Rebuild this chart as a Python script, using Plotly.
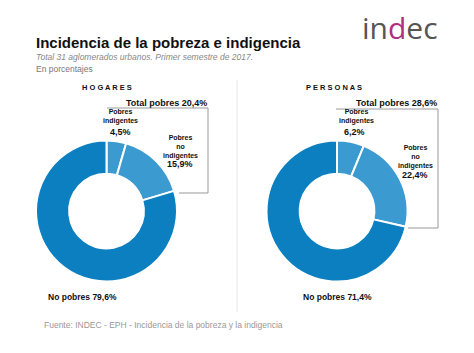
import plotly.graph_objects as go

categories = ["Pobres indigentes", "Pobres no indigentes", "No pobres"]
hogares = [4.5, 15.9, 79.6]
personas = [6.2, 22.4, 71.4]
total_hogares = 20.4
total_personas = 28.6

DARK = "#0b7fc0"
LIGHT = "#3b9bd0"
colors = [LIGHT, LIGHT, DARK]

W, H = 474, 353

def fmt(v):
    return f"{v:.1f}".replace(".", ",") + "%"

fig = go.Figure()

def px_dom(cx, cy, r):
    return dict(x=[(cx - r) / W, (cx + r) / W], y=[(H - cy - r) / H, (H - cy + r) / H])

fig.add_trace(go.Pie(labels=categories, values=hogares, sort=False, direction="clockwise",
                     rotation=0, hole=0.53, textinfo="none", hoverinfo="label+value",
                     marker=dict(colors=colors, line=dict(color="white", width=2)),
                     domain=px_dom(106.5, 211, 70.5), showlegend=False))
fig.add_trace(go.Pie(labels=categories, values=personas, sort=False, direction="clockwise",
                     rotation=0, hole=0.53, textinfo="none", hoverinfo="label+value",
                     marker=dict(colors=colors, line=dict(color="white", width=2)),
                     domain=px_dom(337, 211, 70.5), showlegend=False))

ann = []
def T(x, y, text, size=8, color="#111", bold=False, xanchor="center", italic=False, family="Liberation Sans, Arial, sans-serif"):
    t = text
    if bold:
        t = "<b>" + t + "</b>"
    if italic:
        t = "<i>" + t + "</i>"
    ann.append(dict(x=x / W, y=1 - y / H, xref="paper", yref="paper", text=t, showarrow=False,
                    xanchor=xanchor, yanchor="middle", align="center",
                    font=dict(size=size, color=color, family=family)))

T(34, 42, "Incidencia de la pobreza e indigencia", size=15, bold=True, xanchor="left")
T(34, 57, "Total 31 aglomerados urbanos. Primer semestre de 2017.", size=8.5, color="#888", italic=True, xanchor="left")
T(34, 69, "En porcentajes", size=8.5, color="#777", xanchor="left")
T(400, 28, "<span style='color:#555'>in</span><span style='color:#b1307f'>d</span><span style='color:#555'>ec</span>", size=30, xanchor="center", family="Open Sans, Lato, sans-serif")

T(107, 87, "H O G A R E S", size=7.5, bold=True)
T(334, 87, "P E R S O N A S", size=7.5, bold=True)

T(209, 103, "Total pobres " + fmt(total_hogares), size=9, bold=True, xanchor="right")
T(439, 103, "Total pobres " + fmt(total_personas), size=9, bold=True, xanchor="right")

T(120, 117, "Pobres<br>indigentes", size=7, bold=True)
T(120, 132, fmt(hogares[0]), size=9, bold=True)
T(180, 147, "Pobres<br>no<br>indigentes", size=7, bold=True)
T(180, 164, fmt(hogares[1]), size=9, bold=True)

T(356, 117, "Pobres<br>indigentes", size=7, bold=True)
T(354, 132, fmt(personas[0]), size=9, bold=True)
T(415, 157, "Pobres<br>no<br>indigentes", size=7, bold=True)
T(415, 175, fmt(personas[1]), size=9, bold=True)

T(82, 297, "No pobres " + fmt(hogares[2]), size=8.5, bold=True)
T(337, 297, "No pobres " + fmt(personas[2]), size=8.5, bold=True)

T(42, 325, "Fuente: INDEC - EPH - Incidencia de la pobreza y la indigencia", size=8.5, color="#999", xanchor="left")

shapes = []
def L(x0, y0, x1, y1, color="#999", width=1):
    shapes.append(dict(type="line", xref="paper", yref="paper", x0=x0 / W, y0=1 - y0 / H,
                       x1=x1 / W, y1=1 - y1 / H, line=dict(color=color, width=width)))

L(107, 108, 208, 108)
L(208, 108, 208, 193)
L(208, 193, 179, 193)
L(336, 109, 438, 109)
L(438, 109, 438, 228)
L(438, 228, 408, 228)
L(237, 80, 237, 312, color="#e6e6e6")

fig.update_layout(width=W, height=H, margin=dict(l=0, r=0, t=0, b=0),
                  paper_bgcolor="white", plot_bgcolor="white",
                  annotations=ann, shapes=shapes)
fig.write_html("out.html")
